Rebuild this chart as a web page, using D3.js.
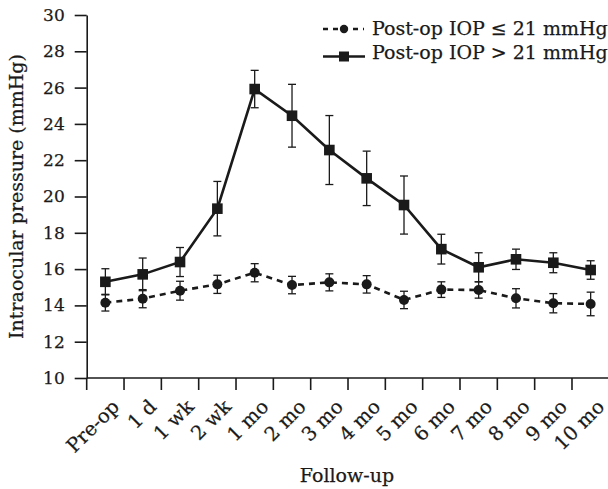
<!DOCTYPE html>
<html><head><meta charset="utf-8">
<script src="https://cdn.jsdelivr.net/npm/d3@7"></script>
<style>
body{margin:0;background:#fff}
text{font-family:"DejaVu Serif",serif;fill:#1a1a1a;stroke:#1a1a1a;stroke-width:0.25px}
</style>
</head><body><svg id="c" width="608" height="489"></svg>
<script>
const categories = ["Pre-op","1 d","1 wk","2 wk","1 mo","2 mo","3 mo","4 mo","5 mo","6 mo","7 mo","8 mo","9 mo","10 mo"];
const lowMean  = [14.15,14.37,14.81,15.16,15.80,15.12,15.27,15.16,14.30,14.87,14.85,14.39,14.12,14.08];
const lowErr   = [0.46,0.50,0.52,0.50,0.50,0.48,0.47,0.48,0.48,0.43,0.45,0.53,0.53,0.65];
const highMean = [15.30,15.71,16.39,19.33,25.92,24.45,22.56,21.00,19.53,17.10,16.10,16.54,16.35,15.95];
const highErr  = [0.72,0.90,0.80,1.50,1.03,1.73,1.90,1.50,1.60,0.82,0.80,0.56,0.55,0.51];
const yTicks = [10,12,14,16,18,20,22,24,26,28,30];
const seriesNames = ["Post-op IOP \u2264 21 mmHg","Post-op IOP > 21 mmHg"];
const xTitle = "Follow-up";
const yTitle = "Intraocular pressure (mmHg)";

const ink = "#1a1a1a";
const svg = d3.select("#c");
const x0 = 86.7, band = 37.33;
const x = d3.scaleBand().domain(categories).range([x0, x0 + band*categories.length]).padding(0);
const y = d3.scaleLinear().domain([10,30]).range([378,15]);
const cx = c => x(c) + x.bandwidth()/2;

// Y axis
const yAxis = d3.axisLeft(y).tickValues(yTicks).tickSize(12).tickSizeOuter(0).tickPadding(10);
const gy = svg.append("g").attr("transform",`translate(${x0},0)`).call(yAxis);
gy.select(".domain").attr("stroke",ink).attr("stroke-width",1.6);
gy.selectAll(".tick line").attr("stroke",ink).attr("stroke-width",1.6);
gy.selectAll(".tick text").attr("font-size",17).attr("font-family","DejaVu Serif").attr("fill",ink);

// X axis (ticks at band boundaries)
const gx = svg.append("g");
gx.append("line").attr("x1",x0).attr("x2",x0+band*categories.length)
  .attr("y1",y(10)).attr("y2",y(10)).attr("stroke",ink).attr("stroke-width",1.6);
gx.selectAll("line.t").data(categories).join("line").attr("class","t")
  .attr("x1",d=>x(d)).attr("x2",d=>x(d)).attr("y1",y(10)).attr("y2",y(10)+12)
  .attr("stroke",ink).attr("stroke-width",1.6);
gx.selectAll("text").data(categories).join("text")
  .attr("transform",d=>`translate(${cx(d)+15},${y(10)+30}) rotate(-45)`)
  .attr("text-anchor","end").attr("font-size",19.5).text(d=>d);

// titles
svg.append("text").attr("x",347).attr("y",482).attr("text-anchor","middle").attr("font-size",19).text(xTitle);
svg.append("text").attr("transform",`translate(23,${(y(10)+y(30))/2}) rotate(-90)`)
  .attr("text-anchor","middle").attr("font-size",19).text(yTitle);

function drawSeries(means, errs, dashed, marker){
  const g = svg.append("g");
  const pts = categories.map((c,i)=>({c, m:means[i], e:errs[i]}));
  g.selectAll("line.eb").data(pts).join("line").attr("class","eb")
    .attr("x1",d=>cx(d.c)).attr("x2",d=>cx(d.c)).attr("y1",d=>y(d.m-d.e)).attr("y2",d=>y(d.m+d.e))
    .attr("stroke",ink).attr("stroke-width",1.3);
  ["+","-"].forEach(s=>{
    g.selectAll("line.cap"+(s=="+"?"u":"d")).data(pts).join("line").attr("class","cap"+(s=="+"?"u":"d"))
      .attr("x1",d=>cx(d.c)-4).attr("x2",d=>cx(d.c)+4)
      .attr("y1",d=>y(s=="+"?d.m+d.e:d.m-d.e)).attr("y2",d=>y(s=="+"?d.m+d.e:d.m-d.e))
      .attr("stroke",ink).attr("stroke-width",1.3);
  });
  const line = d3.line().x(d=>cx(d.c)).y(d=>y(d.m));
  g.append("path").datum(pts).attr("d",line).attr("fill","none").attr("stroke",ink)
    .attr("stroke-width",2.6).attr("stroke-dasharray",dashed?"6,5":null);
  if(marker==="circle"){
    g.selectAll("circle").data(pts).join("circle").attr("cx",d=>cx(d.c)).attr("cy",d=>y(d.m)).attr("r",5).attr("fill",ink);
  } else {
    g.selectAll("rect").data(pts).join("rect").attr("x",d=>cx(d.c)-5.3).attr("y",d=>y(d.m)-5.3)
      .attr("width",10.6).attr("height",10.6).attr("fill",ink);
  }
}
drawSeries(lowMean, lowErr, true, "circle");
drawSeries(highMean, highErr, false, "square");

// legend
const lg = svg.append("g");
lg.append("line").attr("x1",323).attr("x2",364).attr("y1",29).attr("y2",29)
  .attr("stroke",ink).attr("stroke-width",2.4).attr("stroke-dasharray","5,5");
lg.append("circle").attr("cx",344).attr("cy",29).attr("r",4.2).attr("fill",ink);
lg.append("text").attr("x",372).attr("y",34.5).attr("font-size",19).text(seriesNames[0]);
lg.append("line").attr("x1",323).attr("x2",365).attr("y1",56.5).attr("y2",56.5)
  .attr("stroke",ink).attr("stroke-width",2.6);
lg.append("rect").attr("x",339).attr("y",51.5).attr("width",10).attr("height",10).attr("fill",ink);
lg.append("text").attr("x",372).attr("y",58.5).attr("font-size",19).text(seriesNames[1]);
</script></body></html>
